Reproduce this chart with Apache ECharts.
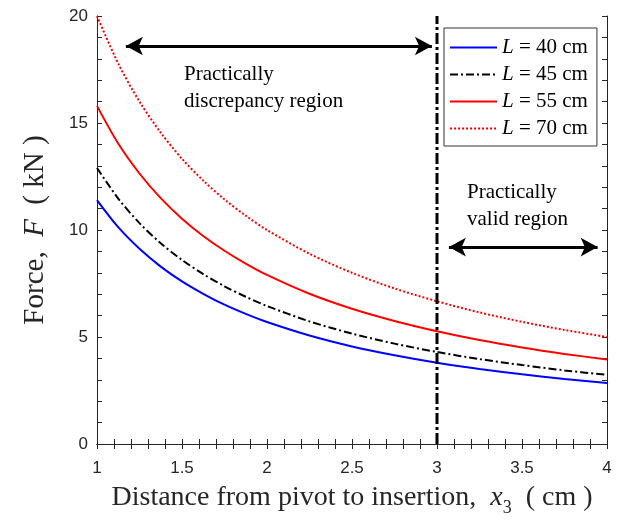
<!DOCTYPE html>
<html lang="en">
<head>
    <meta charset="utf-8">
    <script src="https://cdn.jsdelivr.net/npm/echarts@6/dist/echarts.min.js"></script>
    <title>Force vs distance</title>
    <style>
        html, body { margin: 0; padding: 0; background: #fff; }
        #container { width: 623px; height: 522px; }
    </style>
</head>
<body>
<div id="container"></div>
<script type="text/javascript">
    // x3 (cm) sample positions
    const xs = [1, 1.125, 1.25, 1.375, 1.5, 1.625, 1.75, 1.875, 2, 2.25, 2.5, 2.75, 3, 3.25, 3.5, 3.75, 4];
    // force (kN)
    const f40 = [11.4, 10.13, 9.12, 8.29, 7.6, 7.02, 6.51, 6.08, 5.7, 5.07, 4.56, 4.15, 3.8, 3.51, 3.26, 3.04, 2.85];
    const f45 = [12.9, 11.47, 10.32, 9.38, 8.6, 7.94, 7.37, 6.88, 6.45, 5.73, 5.16, 4.69, 4.3, 3.97, 3.69, 3.44, 3.23];
    const f55 = [15.8, 14.04, 12.64, 11.49, 10.53, 9.72, 9.03, 8.43, 7.9, 7.02, 6.32, 5.75, 5.27, 4.86, 4.51, 4.21, 3.95];
    const f70 = [20, 17.78, 16, 14.55, 13.33, 12.31, 11.43, 10.67, 10, 8.89, 8, 7.27, 6.67, 6.15, 5.71, 5.33, 5];
    const seriesNames = ['L = 40 cm', 'L = 45 cm', 'L = 55 cm', 'L = 70 cm'];
    const xTicks = [1, 1.5, 2, 2.5, 3, 3.5, 4];
    const yTicks = [0, 5, 10, 15, 20];
    // boundary line and arrows
    const boundary = [[3, 0], [3, 20]];
    const leftArrow = [[1.17, 18.6], [2.97, 18.6]];
    const rightArrow = [[3.07, 9.2], [3.945, 9.2]];

    const serif = '"Liberation Serif", "Times New Roman", serif';
    const sans = '"Liberation Sans", Arial, sans-serif';

    const dom = document.getElementById('container');
    const myChart = echarts.init(dom, null, {renderer: 'canvas'});

    function pairs(ys) {
        return xs.map((x, i) => [x, ys[i]]);
    }

    function curve(name, ys, color, dash, width) {
        return {
            name: name,
            type: 'line',
            data: pairs(ys),
            smooth: 0.3,
            showSymbol: false,
            symbol: 'none',
            lineStyle: {color: color, width: width, type: dash},
            itemStyle: {color: color},
            z: 3
        };
    }

    function arrow(coords) {
        return {
            type: 'line',
            data: [],
            silent: true,
            markLine: {
                silent: true,
                symbol: ['arrow', 'arrow'],
                symbolSize: [14, 17],
                label: {show: false},
                lineStyle: {color: '#000', width: 3, type: 'solid'},
                data: [[{coord: coords[0]}, {coord: coords[1]}]]
            }
        };
    }

    const axisCommon = {
        type: 'value',
        axisLine: {show: true, lineStyle: {color: '#262626', width: 1}},
        axisTick: {show: true, inside: true, length: 5, lineStyle: {color: '#262626'}},
        minorTick: {show: true, splitNumber: 5, length: 5, lineStyle: {color: '#262626'}},
        splitLine: {show: false},
        minorSplitLine: {show: false}
    };

    const option = {
        backgroundColor: '#fff',
        animation: false,
        grid: {left: 97, right: 16, top: 16, bottom: 75},
        legend: {
            data: seriesNames,
            left: 444,
            top: 28,
            orient: 'vertical',
            backgroundColor: '#fff',
            borderColor: '#333',
            borderWidth: 1,
            padding: [9, 9, 7, 5],
            itemGap: 6,
            itemWidth: 47,
            itemHeight: 21,
            itemStyle: {opacity: 0},
            textStyle: {
                fontFamily: serif,
                fontSize: 21,
                color: '#000',
                rich: {
                    i: {fontFamily: serif, fontSize: 21, fontStyle: 'italic', color: '#000'}
                }
            },
            formatter: function (name) {
                return '{i|L}' + name.slice(1);
            }
        },
        xAxis: [
            Object.assign({}, axisCommon, {
                min: 1, max: 4, interval: 0.5,
                position: 'bottom',
                axisLabel: {
                    color: '#262626', fontFamily: sans, fontSize: 17, margin: 16,
                    formatter: v => xTicks.includes(v) ? String(v) : ''
                },
                name: 'Distance from pivot to insertion,  {i|x}{s|3}  ( cm )',
                nameLocation: 'middle',
                nameGap: 35,
                nameTextStyle: {
                    fontFamily: serif, fontSize: 28, color: '#262626',
                    rich: {
                        i: {fontFamily: serif, fontSize: 28, fontStyle: 'italic', color: '#262626'},
                        s: {fontFamily: serif, fontSize: 18, color: '#262626', padding: [20, 0, 0, 0]}
                    }
                }
            }),
            Object.assign({}, axisCommon, {
                min: 1, max: 4, interval: 0.5,
                position: 'top',
                axisLabel: {show: false}
            })
        ],
        yAxis: [
            Object.assign({}, axisCommon, {
                min: 0, max: 20, interval: 5,
                position: 'left',
                axisLabel: {
                    color: '#262626', fontFamily: sans, fontSize: 17, margin: 9,
                    formatter: v => yTicks.includes(v) ? String(v) : ''
                },
                name: 'Force,  {i|F}  ( kN )',
                nameLocation: 'middle',
                nameGap: 47,
                nameTextStyle: {
                    fontFamily: serif, fontSize: 29, color: '#262626',
                    rich: {
                        i: {fontFamily: serif, fontSize: 29, fontStyle: 'italic', color: '#262626'}
                    }
                }
            }),
            Object.assign({}, axisCommon, {
                min: 0, max: 20, interval: 5,
                position: 'right',
                axisLabel: {show: false}
            })
        ],
        graphic: [
            {
                type: 'text', left: 184, top: 61, z: 10,
                style: {text: 'Practically\ndiscrepancy region', font: '21px ' + serif, fill: '#000', lineHeight: 27}
            },
            {
                type: 'text', left: 467, top: 179, z: 10,
                style: {text: 'Practically\nvalid region', font: '21px ' + serif, fill: '#000', lineHeight: 27}
            }
        ],
        series: [
            curve(seriesNames[0], f40, '#0000ff', 'solid', 2),
            curve(seriesNames[1], f45, '#000000', [8, 3, 2, 3], 2),
            curve(seriesNames[2], f55, '#ff0000', 'solid', 2),
            curve(seriesNames[3], f70, '#ff0000', [2, 2], 2),
            {
                type: 'line',
                data: boundary,
                showSymbol: false,
                symbol: 'none',
                silent: true,
                lineStyle: {color: '#000', width: 3, type: [11, 3, 3, 3]},
                z: 4
            },
            arrow(leftArrow),
            arrow(rightArrow)
        ]
    };

    myChart.setOption(option);

    window.onresize = function () {
        myChart.resize();
    };
</script>
</body>
</html>
